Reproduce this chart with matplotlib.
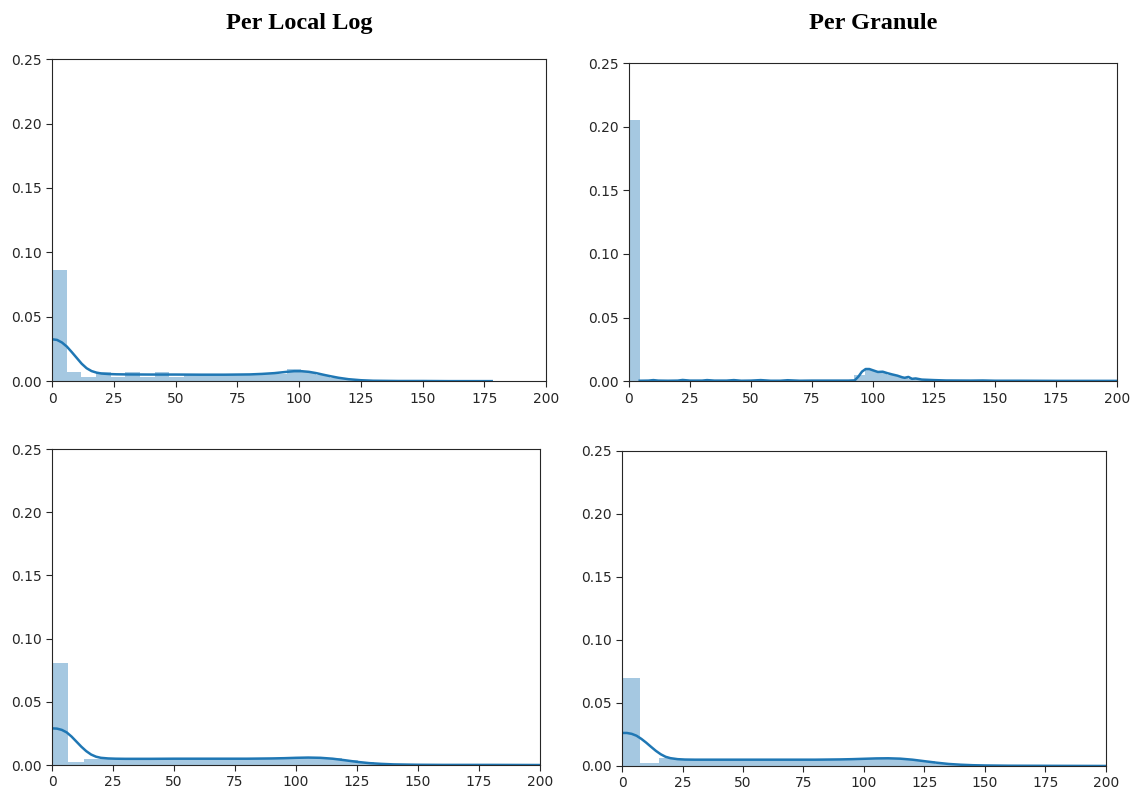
"""Distribution of values: per local log vs per granule (histogram + KDE)."""

import matplotlib.pyplot as plt
import numpy as np

BLUE = "#1f77b4"

# ---- top left: per local log -------------------------------------------
tl_edges = np.linspace(0, 178, 31)
tl_heights = [0.0866, 0.0073, 0.0029, 0.0070, 0.0034, 0.0070, 0.0034, 0.0070,
              0.0034, 0.0052, 0.0052, 0.0052, 0.0052, 0.0052, 0.0055, 0.0055,
              0.0094, 0.0073, 0.0045, 0.0022, 0.0010, 0.0005, 0.0003, 0.0002,
              0.0002, 0.0001, 0.0001, 0.0001, 0.0001, 0.0001]
tl_kde_x = [0, 2, 4, 6, 8, 10, 12, 14, 16, 18, 20, 23, 26, 30, 40, 50, 60, 70,
            80, 85, 90, 95, 98, 101, 104, 107, 110, 113, 116, 120, 125, 130,
            140, 150, 160, 178]
tl_kde_y = [0.0325, 0.0320, 0.0300, 0.0268, 0.0225, 0.0180, 0.0135, 0.0100,
            0.0078, 0.0066, 0.0059, 0.0055, 0.0053, 0.0052, 0.0051, 0.0051,
            0.0050, 0.0050, 0.0052, 0.0056, 0.0062, 0.0072, 0.0077, 0.0077,
            0.0072, 0.0062, 0.0049, 0.0037, 0.0026, 0.0015, 0.0007, 0.0003,
            0.0001, 0.0001, 0.0000, 0.0000]

# ---- top right: per granule ---------------------------------------------
tr_edges = np.linspace(0, 198, 46)
tr_heights = [0.2055, 0.0005, 0.0007, 0.0005, 0.0007, 0.0005, 0.0007, 0.0005,
              0.0007, 0.0005, 0.0007, 0.0005, 0.0007, 0.0005, 0.0006, 0.0005,
              0.0006, 0.0005, 0.0005, 0.0005, 0.0005, 0.0050, 0.0088, 0.0068,
              0.0048, 0.0030, 0.0018, 0.0010, 0.0007, 0.0005, 0.0004, 0.0004,
              0.0004, 0.0004, 0.0004, 0.0003, 0.0003, 0.0003, 0.0003, 0.0003,
              0.0002, 0.0002, 0.0002, 0.0002, 0.0002]
tr_kde_x = [4.4, 8, 10, 12, 16, 20, 22, 25, 30, 32, 35, 40, 43, 46, 50, 54, 58,
            62, 65, 70, 75, 80, 85, 90, 92.5, 94, 95.5, 97, 98.5, 100, 102,
            104, 106, 108, 110, 112, 113, 114.5, 116, 117.5, 120, 125, 130,
            140, 145, 150, 160, 175, 200]
tr_kde_y = [0.0003, 0.0004, 0.0008, 0.0004, 0.0003, 0.0004, 0.0009, 0.0004,
            0.0004, 0.0008, 0.0004, 0.0004, 0.0008, 0.0003, 0.0004, 0.0008,
            0.0003, 0.0003, 0.0007, 0.0003, 0.0004, 0.0004, 0.0004, 0.0004,
            0.0006, 0.0035, 0.0075, 0.0095, 0.0095, 0.0085, 0.0072, 0.0074,
            0.0062, 0.0052, 0.0043, 0.0030, 0.0026, 0.0033, 0.0018, 0.0021,
            0.0012, 0.0008, 0.0005, 0.0004, 0.0005, 0.0003, 0.0003, 0.0002,
            0.0002]

# ---- bottom left --------------------------------------------------------
bl_edges = np.linspace(0, 198, 31)
bl_heights = [0.0810, 0.0026, 0.0047, 0.0050, 0.0050, 0.0050, 0.0050, 0.0055,
              0.0050, 0.0050, 0.0050, 0.0050, 0.0050, 0.0050, 0.0051, 0.0055,
              0.0058, 0.0053, 0.0038, 0.0023, 0.0013, 0.0007, 0.0004, 0.0003,
              0.0002, 0.0002, 0.0001, 0.0001, 0.0001, 0.0001]
bl_kde_x = [0, 2, 4, 6, 8, 10, 12, 14, 16, 18, 20, 23, 26, 30, 40, 50, 60, 70,
            80, 90, 95, 100, 105, 110, 115, 120, 125, 130, 135, 140, 150, 160,
            180, 200]
bl_kde_y = [0.0290, 0.0288, 0.0278, 0.0258, 0.0225, 0.0185, 0.0145, 0.0110,
            0.0083, 0.0066, 0.0057, 0.0052, 0.0050, 0.0049, 0.0049, 0.0050,
            0.0050, 0.0050, 0.0050, 0.0052, 0.0054, 0.0057, 0.0059, 0.0057,
            0.0050, 0.0038, 0.0025, 0.0015, 0.0009, 0.0005, 0.0002, 0.0001,
            0.0001, 0.0000]

# ---- bottom right -------------------------------------------------------
br_edges = np.linspace(0, 197.6, 27)
br_heights = [0.0700, 0.0023, 0.0062, 0.0050, 0.0050, 0.0050, 0.0050, 0.0050,
              0.0050, 0.0050, 0.0050, 0.0050, 0.0052, 0.0056, 0.0060, 0.0057,
              0.0036, 0.0019, 0.0010, 0.0006, 0.0004, 0.0002, 0.0002, 0.0001,
              0.0001, 0.0001]
br_kde_x = [0, 2, 4, 6, 8, 10, 12, 14, 16, 18, 20, 23, 26, 30, 40, 50, 60, 70,
            80, 90, 95, 100, 105, 110, 115, 120, 125, 130, 135, 140, 145, 150,
            160, 180, 200]
br_kde_y = [0.0262, 0.0262, 0.0255, 0.0240, 0.0215, 0.0185, 0.0152, 0.0120,
            0.0093, 0.0073, 0.0062, 0.0054, 0.0051, 0.0050, 0.0050, 0.0050,
            0.0050, 0.0050, 0.0050, 0.0052, 0.0054, 0.0057, 0.0060, 0.0061,
            0.0058, 0.0050, 0.0038, 0.0026, 0.0016, 0.0010, 0.0006, 0.0004,
            0.0002, 0.0001, 0.0000]

X_TICKS = [0, 25, 50, 75, 100, 125, 150, 175, 200]
Y_TICKS = [0.00, 0.05, 0.10, 0.15, 0.20, 0.25]

fig = plt.figure(figsize=(11.39, 7.94), dpi=100)

panels = [
    ([0.0457, 0.520, 0.4337, 0.4055], tl_edges, tl_heights, tl_kde_x, tl_kde_y),
    ([0.5522, 0.520, 0.4285, 0.4005], tr_edges, tr_heights, tr_kde_x, tr_kde_y),
    ([0.0457, 0.0365, 0.4284, 0.3980], bl_edges, bl_heights, bl_kde_x, bl_kde_y),
    ([0.5461, 0.0353, 0.4249, 0.3967], br_edges, br_heights, br_kde_x, br_kde_y),
]

for rect, edges, heights, kx, ky in panels:
    ax = fig.add_axes(rect)
    ax.bar(edges[:-1], heights, width=np.diff(edges), align="edge",
           color=BLUE, alpha=0.4, linewidth=0)
    ax.plot(kx, ky, color=BLUE, linewidth=1.8)
    ax.set_xlim(0, 200)
    ax.set_ylim(0, 0.25)
    ax.set_xticks(X_TICKS)
    ax.set_yticks(Y_TICKS)
    ax.set_yticklabels([f"{t:.2f}" for t in Y_TICKS])
    ax.tick_params(labelsize=10, colors="#262626", length=4)
    for spine in ax.spines.values():
        spine.set_color("#262626")

title_font = dict(family="Liberation Serif", fontsize=17.5, fontweight="bold",
                  ha="center", va="center")
fig.text(0.2625, 0.971, "Per Local Log", **title_font)
fig.text(0.7665, 0.971, "Per Granule", **title_font)

fig.savefig("out.png", dpi=100)
